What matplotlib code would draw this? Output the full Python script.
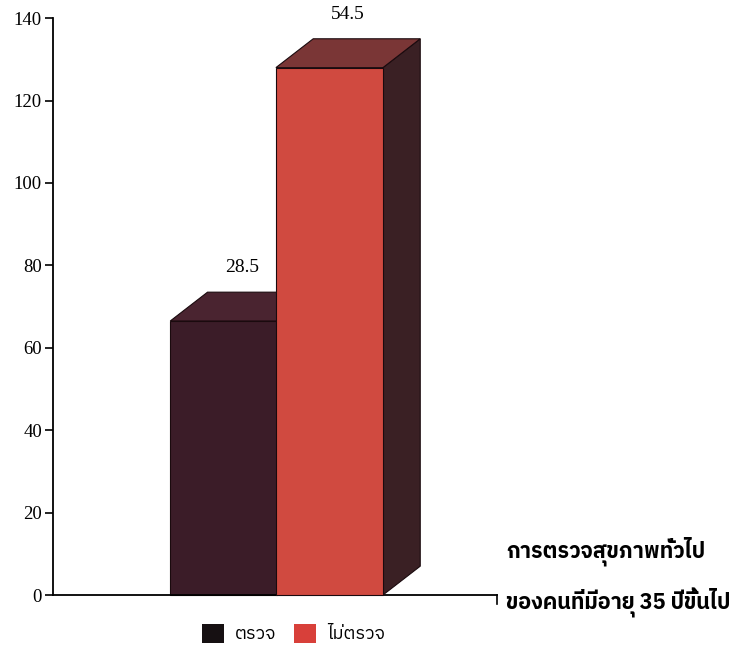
import matplotlib
matplotlib.use("Agg")
import matplotlib.pyplot as plt
from matplotlib import font_manager
from matplotlib.patches import Polygon, Patch
from fontTools.ttLib import TTFont

# ข้อมูลจากกราฟ
categories = ['ตรวจ', 'ไม่ตรวจ']
values = [66.5, 128]
bar_labels = ['28.5', '54.5']
yticks = [0, 20, 40, 60, 80, 100, 120, 140]
xlabel_lines = ['การตรวจสุขภาพทั่วไป', 'ของคนที่มีอายุ 35 ปีขึ้นไป']


def find_thai_font():
    found = []
    for path in font_manager.findSystemFonts():
        try:
            f = TTFont(path, fontNumber=0, lazy=True)
            cmap = f.getBestCmap()
        except Exception:
            continue
        if cmap and 0x0E01 in cmap:
            found.append(path)
    found.sort(key=lambda p: ('thai' not in p.lower(), 'bold' not in p.lower(), p))
    if found:
        font_manager.fontManager.addfont(found[0])
        return font_manager.FontProperties(fname=found[0]).get_name()
    return 'DejaVu Sans'


thai = find_thai_font()
serif = 'Liberation Serif'

front_colors = ['#3b1c28', '#d04a40']
top_colors = ['#4a2430', '#7a3636']
side_color = '#3a2024'
legend_colors = ['#161012', '#d8403a']

fig = plt.figure(figsize=(7.34, 6.54), dpi=100)
ax = fig.add_axes([0.0722, 0.0902, 0.605, 0.882])
ax.set_xlim(0, 10)
ax.set_ylim(0, 140)

x0 = [2.64, 5.02]
width = 2.41
dx, dy = 0.84, 7.0

for i, v in enumerate(values):
    l, r = x0[i], x0[i] + width
    # side
    ax.add_patch(Polygon([(r, 0), (r + dx, dy), (r + dx, v + dy), (r, v)],
                         closed=True, facecolor=side_color, edgecolor='#1a0a0e',
                         lw=0.8, clip_on=False, zorder=2 + i))
    # top
    ax.add_patch(Polygon([(l, v), (l + dx, v + dy), (r + dx, v + dy), (r, v)],
                         closed=True, facecolor=top_colors[i], edgecolor='#1a0a0e',
                         lw=0.8, clip_on=False, zorder=2 + i))
    # front
    ax.add_patch(Polygon([(l, 0), (l, v), (r, v), (r, 0)],
                         closed=True, facecolor=front_colors[i], edgecolor='#1a0a0e',
                         lw=0.8, clip_on=False, zorder=2 + i))
    ax.text(l + width / 2 + dx * 0.5, v + dy + 6, bar_labels[i], ha='center', va='center',
            fontsize=14, family=serif, clip_on=False)

ax.spines['top'].set_visible(False)
ax.spines['right'].set_visible(False)
ax.spines['left'].set_linewidth(1.3)
ax.spines['bottom'].set_linewidth(1.3)
ax.set_xticks([])
ax.set_yticks(yticks)
ax.set_yticklabels([str(t) for t in yticks], family=serif, fontsize=13.5)
ax.tick_params(axis='y', length=6, width=1.2, pad=2)
# ขีดเล็กที่ปลายแกน x
ax.plot([10, 10], [0, -2.2], color='black', lw=1.2, clip_on=False)

fig.text(0.690, 0.157, xlabel_lines[0], family=thai, fontsize=15.5, fontweight='bold',
         ha='left', va='center')
fig.text(0.690, 0.078, xlabel_lines[1], family=thai, fontsize=15.5, fontweight='bold',
         ha='left', va='center')

handles = [Patch(facecolor=legend_colors[i], edgecolor='none') for i in range(2)]
leg = fig.legend(handles, categories, loc='center', bbox_to_anchor=(0.40, 0.031),
                 ncol=2, frameon=False, handlelength=1.2, handleheight=1.2,
                 handletextpad=0.6, columnspacing=1.0,
                 prop=font_manager.FontProperties(family=thai, size=13))

fig.savefig('out.png', dpi=100)
